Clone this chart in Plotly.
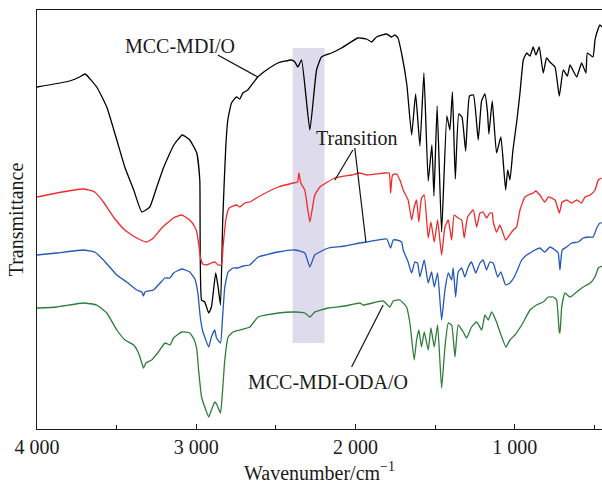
import plotly.graph_objects as go

# FTIR spectra, wavenumber in cm-1 and transmittance in arbitrary (offset) units
mdi_wn = [4000, 3795, 3732, 3698, 3625, 3562, 3499, 3449, 3393, 3342, 3292, 3248, 3204, 3141,
          3088, 3041, 2997, 2978, 2967, 2947, 2922, 2905, 2878, 2863, 2848, 2834, 2815, 2802,
          2779, 2748, 2727, 2708, 2677, 2614, 2559, 2488, 2402, 2381, 2362, 2339, 2287, 2245,
          2214, 2151, 2088, 1986, 1931, 1900, 1868, 1805, 1774, 1753, 1734, 1709, 1678, 1648,
          1623, 1596, 1571, 1544, 1521, 1508, 1488, 1460, 1427, 1408, 1392, 1374, 1352, 1332,
          1309, 1285, 1260, 1230, 1209, 1188, 1172, 1163, 1142, 1115, 1088, 1058, 1045, 1031,
          1012, 987, 968, 947, 926, 905, 885, 868, 847, 822, 801, 780, 748, 721, 696, 670, 654,
          612, 581, 554, 545, 510, 497, 486, 466, 453]
mdi_t = [342, 348, 352, 355, 342, 322, 289, 262, 239, 217, 222, 242, 262, 284,
         294, 289, 276, 249, 129, 127, 116, 122, 156, 142, 124, 209, 282, 309,
         326, 332, 330, 336, 339, 352, 359, 366, 369, 367, 362, 369, 299, 359,
         372, 376, 381, 391, 390, 387, 392, 395, 392, 394, 391, 374, 344, 294,
         335, 283, 356, 248, 284, 233, 323, 197, 313, 299, 337, 250, 315, 312,
         278, 333, 334, 289, 328, 335, 317, 295, 328, 276, 292, 239, 259, 249,
         279, 309, 336, 369, 376, 373, 382, 374, 382, 356, 371, 367, 362, 333, 359, 353, 364,
         352, 366, 356, 376, 372, 389, 396, 404, 402]

tr1_wn = [4000, 3876, 3709, 3638, 3583, 3520, 3449, 3374, 3311, 3269, 3217, 3143, 3091, 3041,
          3009, 2997, 2985, 2972, 2960, 2936, 2905, 2884, 2863, 2842, 2832, 2815, 2794, 2748,
          2727, 2695, 2664, 2612, 2486, 2392, 2364, 2356, 2344, 2319, 2287, 2256, 2224, 2130,
          2025, 1973, 1931, 1816, 1789, 1780, 1768, 1743, 1722, 1701, 1670, 1648, 1632, 1617,
          1603, 1586, 1569, 1544, 1527, 1506, 1485, 1460, 1439, 1418, 1397, 1381, 1356, 1334,
          1318, 1297, 1261, 1240, 1219, 1199, 1178, 1157, 1142, 1136, 1115, 1094, 1058, 1042,
          1010, 989, 968, 937, 916, 885, 869, 843, 812, 790, 748, 721, 703, 675, 643, 612, 581,
          560, 527, 497, 476, 455]
tr1_t = [232, 236, 240, 237, 227, 212, 199, 191, 187, 191, 201, 211, 214, 209,
         202, 197, 185, 170, 165, 164, 166, 167, 164, 164, 182, 209, 221, 224,
         222, 226, 227, 232, 242, 246, 247, 256, 246, 239, 207, 234, 242, 251,
         254, 256, 254, 256, 256, 236, 254, 255, 249, 239, 229, 209, 222, 229,
         207, 231, 234, 191, 207, 187, 209, 174, 202, 209, 189, 214, 211, 209,
         191, 212, 219, 202, 216, 217, 211, 216, 216, 207, 197, 204, 189, 192,
         199, 202, 219, 232, 234, 236, 238, 234, 227, 232, 229, 216, 227, 229, 226, 229, 226,
         232, 234, 239, 249, 251]

tr2_wn = [4000, 3876, 3709, 3638, 3583, 3499, 3437, 3374, 3342, 3332, 3322, 3269, 3227, 3196,
          3165, 3143, 3091, 3041, 3009, 2990, 2975, 2960, 2947, 2922, 2905, 2884, 2873, 2848,
          2836, 2821, 2800, 2769, 2738, 2706, 2664, 2612, 2486, 2381, 2319, 2287, 2256, 2172,
          2067, 1973, 1931, 1805, 1780, 1764, 1743, 1711, 1701, 1670, 1648, 1628, 1611, 1596,
          1569, 1544, 1523, 1506, 1485, 1460, 1439, 1418, 1397, 1387, 1372, 1356, 1334, 1314,
          1293, 1272, 1246, 1219, 1199, 1178, 1157, 1136, 1108, 1088, 1058, 1031, 1004, 979,
          957, 926, 905, 874, 843, 812, 780, 748, 728, 717, 703, 675, 643, 602, 571, 539, 508,
          486, 466, 455]
tr2_t = [174, 176, 179, 177, 169, 154, 147, 139, 137, 133, 137, 139, 146, 151,
         151, 156, 160, 157, 150, 136, 112, 98, 92, 82, 92, 99, 91, 86,
         109, 142, 157, 161, 161, 163, 164, 172, 177, 179, 176, 162, 174, 181,
         183, 186, 187, 190, 181, 189, 189, 187, 179, 167, 156, 167, 166, 152,
         169, 146, 157, 142, 156, 109, 139, 156, 149, 161, 132, 157, 161, 152,
         162, 167, 156, 166, 169, 159, 167, 166, 152, 157, 144, 146, 152, 161,
         169, 174, 176, 179, 181, 177, 182, 179, 176, 159, 179, 182, 186, 187, 191, 192, 192,
         201, 206, 206]

oda_wn = [4000, 3876, 3709, 3625, 3562, 3499, 3447, 3393, 3363, 3342, 3332, 3316, 3280, 3238,
          3196, 3165, 3143, 3091, 3041, 3015, 2997, 2985, 2967, 2947, 2922, 2905, 2884, 2870, 2848,
          2836, 2821, 2800, 2769, 2727, 2664, 2612, 2486, 2381, 2319, 2287, 2256, 2172, 2067,
          1973, 1952, 1827, 1785, 1764, 1722, 1680, 1659, 1632, 1617, 1603, 1586, 1569, 1544,
          1527, 1506, 1485, 1460, 1439, 1418, 1397, 1376, 1356, 1324, 1303, 1272, 1240, 1208,
          1188, 1167, 1146, 1115, 1094, 1056, 1031, 1000, 957, 905, 864, 822, 790, 759, 738,
          721, 717, 706, 686, 654, 612, 571, 527, 497, 476, 453]
oda_t = [121, 122, 126, 124, 116, 99, 89, 84, 76, 66, 61, 66, 69, 77,
         86, 84, 91, 97, 96, 90, 80, 58, 32, 22, 12, 19, 27, 24, 16,
         36, 69, 92, 97, 99, 102, 112, 116, 117, 116, 112, 117, 121, 123,
         126, 124, 128, 122, 128, 129, 122, 106, 69, 89, 99, 82, 97, 79,
         101, 82, 104, 41, 82, 106, 104, 72, 104, 97, 91, 102, 107, 99,
         114, 109, 117, 107, 97, 82, 89, 94, 104, 119, 124, 127, 132, 132, 129,
         97, 96, 122, 136, 132, 137, 142, 146, 152, 161, 163]

series = [
    ("MCC-MDI/O", mdi_wn, mdi_t, "#000000"),
    ("Transition (I)", tr1_wn, tr1_t, "#f02a2a"),
    ("Transition (II)", tr2_wn, tr2_t, "#2457b8"),
    ("MCC-MDI-ODA/O", oda_wn, oda_t, "#2e7d3a"),
]

FONT = "Liberation Serif, Times New Roman, serif"

fig = go.Figure()
for name, wn, t, color in series:
    fig.add_trace(go.Scatter(x=wn, y=t, mode="lines", name=name,
                             line=dict(color=color, width=1.3, shape="spline", smoothing=0.4),
                             showlegend=False))

# highlighted band around the isocyanate (N=C=O) stretch
fig.add_shape(type="rect", xref="x", yref="y", x0=2395, x1=2195, y0=86, y1=381,
              fillcolor="rgb(221,219,236)", line=dict(width=0), layer="below")

# leader lines from labels to curves
leaders = [
    (2865, 374, 2614, 352),
    (2017, 279, 2130, 249),
    (2005, 281, 1935, 187),
    (2025, 62, 1827, 124),
]
for x0, y0, x1, y1 in leaders:
    fig.add_shape(type="line", xref="x", yref="y", x0=x0, y0=y0, x1=x1, y1=y1,
                  line=dict(color="#111111", width=1.2))

labels = [
    ("MCC-MDI/O", 3104, 383),
    ("Transition", 1992, 291),
    ("MCC-MDI-ODA/O", 2174, 47),
]
for text, x, y in labels:
    fig.add_annotation(x=x, y=y, xref="x", yref="y", text=text, showarrow=False,
                       font=dict(family=FONT, size=20, color="#1a1a1a"))

fig.update_layout(
    width=602, height=494,
    margin=dict(l=37, r=0, t=10, b=65),
    paper_bgcolor="white", plot_bgcolor="white",
    font=dict(family=FONT, size=20, color="#1a1a1a"),
)
fig.update_xaxes(
    range=[4000, 453], showgrid=False, zeroline=False,
    showline=True, linecolor="#1a1a1a", linewidth=1.3, mirror=True,
    tickmode="array", tickvals=[4000, 3000, 2000, 1000],
    ticktext=["4 000", "3 000", "2 000", "1 000"],
    ticks="inside", ticklen=5, tickcolor="#1a1a1a", tickwidth=1.2,
    minor=dict(tickvals=[3500, 2500, 1500, 500], ticks="inside", ticklen=4,
               tickcolor="#1a1a1a", tickwidth=1.2),
    title=dict(text="Wavenumber/cm<sup>−1</sup>", standoff=8,
               font=dict(family=FONT, size=20)),
    tickfont=dict(family=FONT, size=20),
)
fig.update_yaxes(
    range=[0, 419], showgrid=False, zeroline=False,
    showline=True, linecolor="#1a1a1a", linewidth=1.3,
    showticklabels=False, ticks="",
    title=dict(text="Transmittance", standoff=6, font=dict(family=FONT, size=20)),
)

fig.write_html("out.html")
